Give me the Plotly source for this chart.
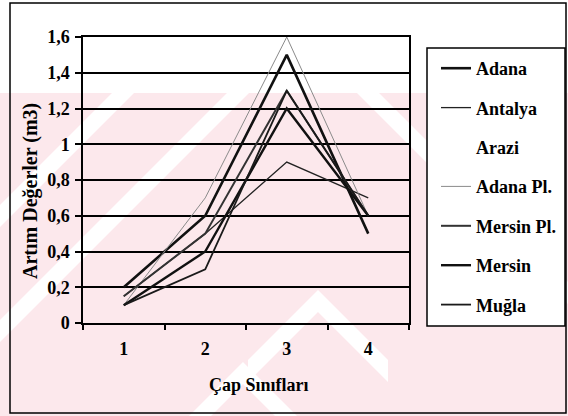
import plotly.graph_objects as go

# Diameter classes and increment values (m3) per region
categories = ["1", "2", "3", "4"]
adana = [0.2, 0.6, 1.5, 0.5]
antalya = [0.15, 0.5, 0.9, 0.7]
arazi = [None, None, None, None]
adana_pl = [0.1, 0.7, 1.6, 0.6]
mersin_pl = [0.15, 0.5, 1.3, 0.6]
mersin = [0.1, 0.4, 1.2, 0.6]
mugla = [0.1, 0.3, 1.3, 0.6]

series = [
    ("Adana", adana, "#111111", 2.6),
    ("Antalya", antalya, "#222222", 1.3),
    ("Arazi", arazi, "rgba(0,0,0,0)", 1.0),
    ("Adana Pl.", adana_pl, "#8a8a8a", 1.0),
    ("Mersin Pl.", mersin_pl, "#333333", 2.0),
    ("Mersin", mersin, "#111111", 2.4),
    ("Muğla", mugla, "#1a1a1a", 1.8),
]

W, H = 568, 416
L, R, T, B = 83, 159, 37, 93
PW, PH = W - L - R, H - T - B


def px(x):
    return (x - L) / PW


def py(y):
    return (H - B - y) / PH


FONT = "Liberation Serif"

fig = go.Figure()
for i, (name, vals, color, width) in enumerate(series):
    fig.add_trace(go.Scatter(
        x=categories, y=vals, name=name, mode="lines",
        line=dict(color=color, width=width),
        legendgroup=f"g{i}", connectgaps=False,
    ))

pink = "#fce8ec"
shapes = []
# background tint band
shapes.append(dict(type="rect", xref="paper", yref="paper", layer="below",
                   x0=px(0), x1=px(W), y0=py(416), y1=py(93),
                   fillcolor=pink, line=dict(width=0)))


def band(points):
    path = "M " + " L ".join(f"{px(a)},{py(b)}" for a, b in points) + " Z"
    return dict(type="path", xref="paper", yref="paper", layer="below",
                path=path, fillcolor="white", line=dict(width=0))


def chevron(cx, cy, arm, t):
    return band([(cx - arm, cy + arm), (cx, cy), (cx + arm, cy + arm),
                 (cx + arm, cy + arm + t), (cx, cy + t), (cx - arm, cy + arm + t)])


# rising stripes on the left
for s in (205, 320):
    shapes.append(band([(0, s), (s - 93, 93), (s - 93 + 22, 93), (0, s + 22)]))
# falling stripe upper right
shapes.append(band([(357, 93), (379, 93), (568, 282), (568, 304)]))
# chevrons near the bottom
shapes.append(chevron(318, 290, 70, 22))
shapes.append(chevron(243, 362, 60, 22))

# legend frame and outer frame
shapes.append(dict(type="rect", xref="paper", yref="paper", layer="below",
                   x0=px(427), x1=px(565), y0=py(326), y1=py(48),
                   fillcolor="white", line=dict(color="black", width=1.5)))
shapes.append(dict(type="rect", xref="paper", yref="paper", layer="above",
                   x0=px(10), x1=px(566), y0=py(413), y1=py(3),
                   fillcolor="rgba(0,0,0,0)", line=dict(color="black", width=1.5)))

annotations = [
    dict(text="Artım Değerler (m3)", xref="paper", yref="paper",
         x=px(30), y=py(191), xanchor="center", yanchor="middle",
         textangle=-90, showarrow=False,
         font=dict(family=FONT, size=20, color="black", weight="bold")),
    dict(text="Çap Sınıfları", xref="paper", yref="paper",
         x=px(259), y=py(385), xanchor="center", yanchor="middle",
         showarrow=False,
         font=dict(family=FONT, size=18, color="black", weight="bold")),
]

tickfont = dict(family=FONT, size=18, color="black", weight="bold")

fig.update_layout(
    width=W, height=H,
    margin=dict(l=L, r=R, t=T, b=B, autoexpand=False),
    paper_bgcolor="white", plot_bgcolor="rgba(0,0,0,0)",
    separators=",.",
    showlegend=True,
    legend=dict(x=px(436), y=py(50), xanchor="left", yanchor="top",
                bgcolor="rgba(0,0,0,0)", borderwidth=0,
                tracegroupgap=13,
                font=dict(family=FONT, size=18, color="black", weight="bold")),
    shapes=shapes,
    annotations=annotations,
    xaxis=dict(type="category", categoryorder="array", categoryarray=categories,
               range=[-0.5, 3.5], tickson="boundaries", ticks="outside",
               ticklen=5, tickcolor="black", tickwidth=1.5,
               ticklabelstandoff=9,
               showline=True, linecolor="black", linewidth=1.5, mirror=True,
               showgrid=False, zeroline=False, tickfont=tickfont),
    yaxis=dict(range=[0, 1.6], dtick=0.2, tick0=0, ticks="outside",
               ticklen=6, tickcolor="black", tickwidth=1.5,
               ticklabelstandoff=2,
               showline=True, linecolor="black", linewidth=1.5, mirror=True,
               showgrid=True, gridcolor="black", gridwidth=1.5,
               zeroline=False, tickfont=tickfont),
)

fig.write_html("out.html")
